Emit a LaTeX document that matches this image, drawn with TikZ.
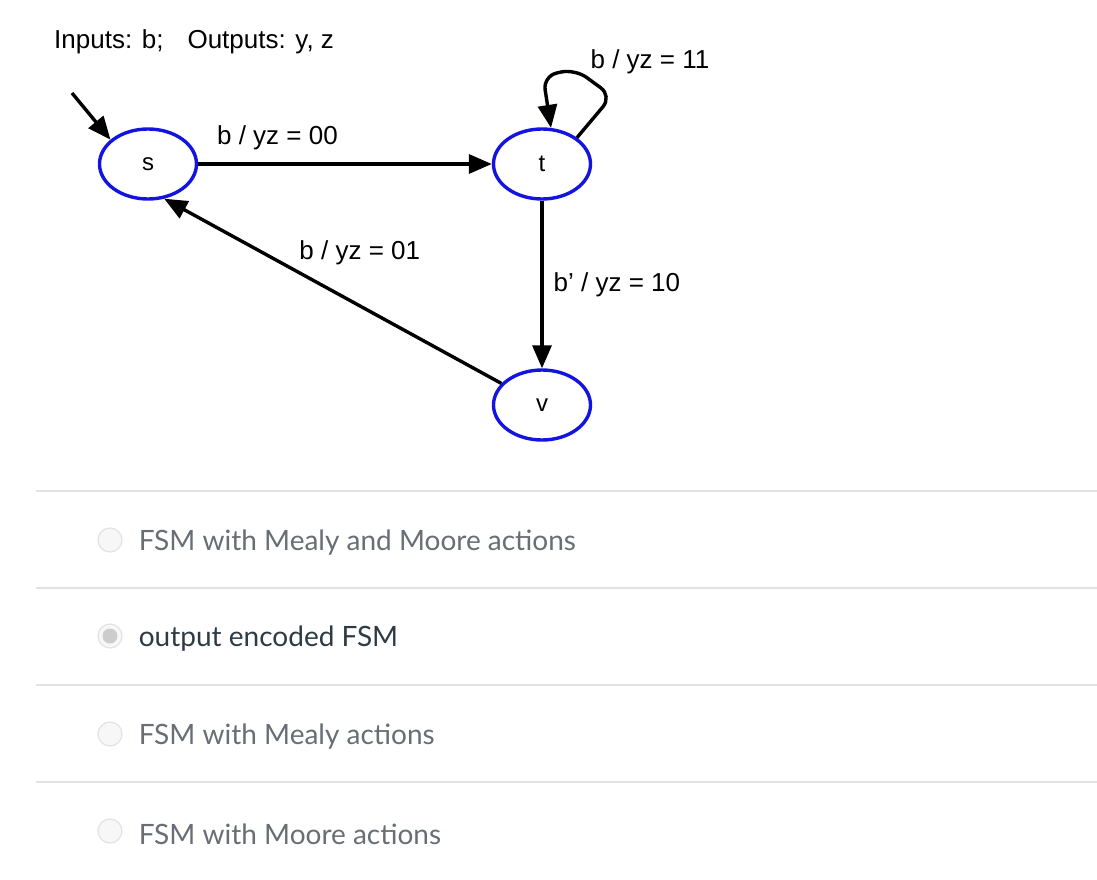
\documentclass[tikz,border=0pt]{standalone}
\usepackage{fontspec}
\setmainfont{Liberation Sans}
\newfontfamily\latofont{Lato}
\usepackage{tikz}
\usetikzlibrary{positioning,arrows.meta,shapes.geometric}
\definecolor{stateblue}{RGB}{20,20,225}
\definecolor{rulegray}{RGB}{226,226,226}
\definecolor{optgray}{RGB}{104,110,116}
\definecolor{optdark}{RGB}{45,59,69}

\begin{document}
\begin{tikzpicture}[x=1pt, y=-1pt,
  state/.style={ellipse, draw=stateblue, line width=3.4pt, minimum width=97pt,
                minimum height=70pt, inner sep=0pt, font=\fontsize{24}{28}\selectfont},
  trans/.style={line width=3.4pt, -{Triangle[length=23pt,width=19pt]}},
  lbl/.style={font=\fontsize{26}{30}\selectfont, inner sep=2pt},
  answer/.style={font=\latofont\fontsize{28}{32}\selectfont, inner sep=0pt},
  radio/.style={circle, draw=rulegray, line width=1.2pt, fill=black!3,
                minimum size=24pt, inner sep=0pt}]

\useasboundingbox (0,0) rectangle (1097,880);

\node[lbl, anchor=west] (io) at (52,42) {Inputs: b;\hspace{24pt}Outputs: y, z};

\node[state] (s) at (148,164) {s};
\node[state] (t) at (542,164) {t};
\node[state] (v) at (542,405) {v};
\coordinate (init) at (72,93);

\draw[trans] (init) -- (s.147);
\draw[trans] (s) -- (t) node[lbl, pos=0.27, above=10pt] (l00) {b / yz = 00};
\draw[trans] (t) -- (v) node[lbl, midway, right=8pt] (l10) {b' / yz = 10};
\draw[trans] (v.152) -- (s.-65) node[lbl, pos=0.42, above=37pt] (l01) {b / yz = 01};
\draw[trans, rounded corners=14pt] (t.37) -- (612,96) -- (575,69) -- (543,76) -- (t.76);
\node[lbl] (l11) at (650,62) {b / yz = 11};

% answer list
\foreach \y in {491,588,685,782}
  \draw[rulegray, line width=2pt] (36,\y) -- (1097,\y);

\foreach \nm/\y/\col/\txt in {mm/540/optgray/FSM with Mealy and Moore actions,
    enc/636/optdark/output encoded FSM, mealy/734/optgray/FSM with Mealy actions,
    moore/831/optgray/FSM with Moore actions}{
  \node[radio] (r\nm) at (110,\y) {};
  \node[answer, text=\col, right=16pt of r\nm, yshift=-3pt] (\nm) {\txt};
}
\node[circle, fill=black!20, minimum size=15pt, inner sep=0pt] (dot) at (renc) {};
\end{tikzpicture}
\end{document}
